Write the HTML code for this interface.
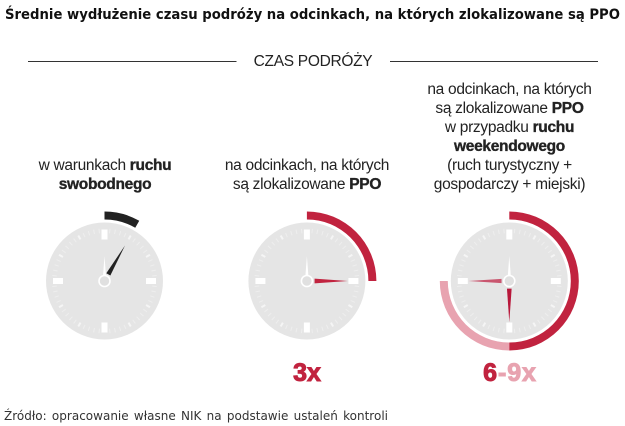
<!DOCTYPE html>
<html lang="pl">
<head>
<meta charset="utf-8">
<title>Średnie wydłużenie czasu podróży</title>
<style>
html,body{margin:0;padding:0;background:#fff;width:625px;height:426px;overflow:hidden}
svg{display:block}
.cap{font-family:"Liberation Sans",sans-serif;font-size:15.5px;letter-spacing:-.3px;fill:#222;text-anchor:middle}
.cap tspan.b{font-weight:700;stroke:#222;stroke-width:.35px}
</style>
</head>
<body>
<svg id="chart" width="625" height="426" viewBox="0 0 625 426" xmlns="http://www.w3.org/2000/svg">
  <text x="5" y="19" textLength="615" lengthAdjust="spacingAndGlyphs" font-family="'DejaVu Sans',sans-serif" font-weight="700" font-size="14" fill="#111">Średnie wydłużenie czasu podróży na odcinkach, na których zlokalizowane są PPO</text>
  <line x1="28" y1="61.5" x2="236.5" y2="61.5" stroke="#333" stroke-width="1"/>
  <line x1="390" y1="61.5" x2="598" y2="61.5" stroke="#333" stroke-width="1"/>
  <text x="313" y="66" text-anchor="middle" font-family="'Liberation Sans',sans-serif" font-size="15.5" letter-spacing="-.3" fill="#222">CZAS PODRÓŻY</text>

  <g>
    <text class="cap" x="105" y="170">w warunkach <tspan class="b">ruchu</tspan></text>
    <text class="cap" x="105" y="189"><tspan class="b">swobodnego</tspan></text>
  </g>
  <g>
    <text class="cap" x="307" y="170">na odcinkach, na których</text>
    <text class="cap" x="307" y="189">są zlokalizowane <tspan class="b">PPO</tspan></text>
  </g>
  <g>
    <text class="cap" x="509.5" y="94">na odcinkach, na których</text>
    <text class="cap" x="509.5" y="113">są zlokalizowane <tspan class="b">PPO</tspan></text>
    <text class="cap" x="509.5" y="132">w przypadku <tspan class="b">ruchu</tspan></text>
    <text class="cap" x="509.5" y="151"><tspan class="b">weekendowego</tspan></text>
    <text class="cap" x="509.5" y="170">(ruch turystyczny +</text>
    <text class="cap" x="509.5" y="189">gospodarczy + miejski)</text>
  </g>

  <g id="clocks"></g>

  <text x="307" y="381" text-anchor="middle" font-family="'Liberation Sans',sans-serif" font-weight="700" font-size="25" fill="#c1233f" stroke="#c1233f" stroke-width="1">3x</text>
  <text x="510" y="381" text-anchor="middle" font-family="'Liberation Sans',sans-serif" font-weight="700" font-size="25" letter-spacing=".9" stroke-width="1"><tspan fill="#c1233f" stroke="#c1233f">6</tspan><tspan fill="#e8a3b0" stroke="#e8a3b0">-9x</tspan></text>

  <text x="4" y="420" textLength="384" lengthAdjust="spacingAndGlyphs" font-family="'DejaVu Sans',sans-serif" font-size="12.5" word-spacing="1.5" fill="#333">Źródło: opracowanie własne NIK na podstawie ustaleń kontroli</text>
</svg>
<script>
// Travel-time multipliers shown on each clock (1 unit = 5 minutes on the dial)
var clockNames = ['free-flow', 'ppo', 'ppo-weekend'];
var baseMultipliers = [1, 3, 6];
var upperMultipliers = [null, null, 9];
var baseColors = ['#222222', '#c1233f', '#c1233f'];
var handColors = ['#222222', '#c1233f', '#b8173a'];
var upperColor = '#e8a3b0';
var upperHandColor = '#c9566f';

var NS = 'http://www.w3.org/2000/svg';
var root = document.getElementById('clocks');
var centerY = 281;

function centerX(i) { return 104.5 + i * 202.4; }
function angleOf(multiplier) { return multiplier * 30; }
function polar(cx, r, deg) {
  var a = deg * Math.PI / 180;
  return [cx + r * Math.sin(a), centerY - r * Math.cos(a)];
}
function make(tag, parent) {
  var el = document.createElementNS(NS, tag);
  parent.appendChild(el);
  return el;
}
function arcPath(cx, from, to) {
  var outer = 69.5, inner = 61.5;
  var a = polar(cx, outer, from), b = polar(cx, outer, to);
  var c = polar(cx, inner, to), d = polar(cx, inner, from);
  var large = (to - from) > 180 ? 1 : 0;
  return 'M' + a + 'A' + outer + ' ' + outer + ' 0 ' + large + ' 1 ' + b +
         'L' + c + 'A' + inner + ' ' + inner + ' 0 ' + large + ' 0 ' + d + 'Z';
}
function handPoints(cx, deg, len, halfWidth, start) {
  var tip = polar(cx, len, deg);
  var b1 = polar(cx, start, deg - halfWidth);
  var b2 = polar(cx, start, deg + halfWidth);
  return [tip, b1, b2].join(' ');
}

clockNames.forEach(function (name, i) {
  var cx = centerX(i);
  var g = make('g', root);
  
  

  var face = make('circle', g);
  
  
  face.setAttribute('cx', cx);
  face.setAttribute('cy', centerY);
  face.setAttribute('r', 58.5);
  face.setAttribute('fill', '#e5e5e5');

  for (var t = 0; t < 60; t++) {
    var major = t % 15 === 0;
    var deg = t * 6;
    var tick = make('line', g);
    var p1 = polar(cx, major ? 41.5 : 48, deg);
    var p2 = polar(cx, major ? 51.5 : 52.5, deg);
    
    
    tick.setAttribute('x1', p1[0]);
    tick.setAttribute('y1', p1[1]);
    tick.setAttribute('x2', p2[0]);
    tick.setAttribute('y2', p2[1]);
    tick.setAttribute('stroke', '#ffffff');
    tick.setAttribute('stroke-width', major ? 6 : (t % 5 === 0 ? 2 : 1));
    tick.setAttribute('stroke-opacity', major ? 1 : (t % 5 === 0 ? 0.6 : 0.35));
  }

  if (upperMultipliers[i] !== null) {
    var upArc = make('path', g);
    
    
    upArc.setAttribute('d', arcPath(cx, angleOf(baseMultipliers[i]), angleOf(upperMultipliers[i])));
    upArc.setAttribute('fill', upperColor);

    var upHand = make('polygon', g);
    
    
    upHand.setAttribute('points', handPoints(cx, angleOf(upperMultipliers[i]), 41, 15, 8));
    upHand.setAttribute('fill', upperHandColor);
  }

  var arc = make('path', g);
  
  
  arc.setAttribute('d', arcPath(cx, 0, angleOf(baseMultipliers[i])));
  arc.setAttribute('fill', baseColors[i]);

  var minute = make('polygon', g);
  
  
  minute.setAttribute('points', handPoints(cx, 0, 25, 14, 6));
  minute.setAttribute('fill', '#ffffff');

  var hand = make('polygon', g);
  
  
  hand.setAttribute('points', handPoints(cx, angleOf(baseMultipliers[i]), 41, 17, 8));
  hand.setAttribute('fill', handColors[i]);

  var hub = make('circle', g);
  
  
  hub.setAttribute('cx', cx);
  hub.setAttribute('cy', centerY);
  hub.setAttribute('r', 5.5);
  hub.setAttribute('fill', '#e0e0e0');
  hub.setAttribute('stroke', '#ffffff');
  hub.setAttribute('stroke-width', 1.6);
});
</script>
</body>
</html>
